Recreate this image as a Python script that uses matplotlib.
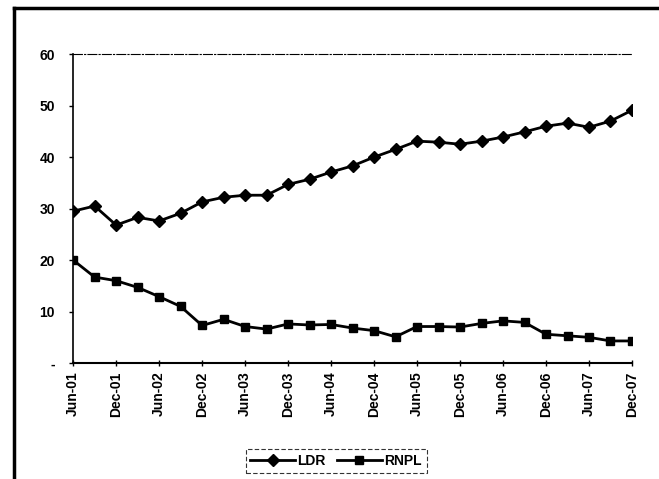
import matplotlib
matplotlib.use("Agg")
import matplotlib.pyplot as plt
from matplotlib.lines import Line2D

plt.rcParams["font.family"] = ["Liberation Sans", "DejaVu Sans"]
plt.rcParams["font.weight"] = "bold"

QUARTERS = ["Jun-01", "Sep-01", "Dec-01", "Mar-02", "Jun-02", "Sep-02", "Dec-02",
            "Mar-03", "Jun-03", "Sep-03", "Dec-03", "Mar-04", "Jun-04", "Sep-04",
            "Dec-04", "Mar-05", "Jun-05", "Sep-05", "Dec-05", "Mar-06", "Jun-06",
            "Sep-06", "Dec-06", "Mar-07", "Jun-07", "Sep-07", "Dec-07"]

LDR = [29.5, 30.5, 26.8, 28.3, 27.6, 29.1, 31.3, 32.2, 32.6, 32.6, 34.7, 35.7,
       37.1, 38.3, 40.0, 41.5, 43.1, 42.9, 42.5, 43.1, 43.9, 44.9, 46.0, 46.6,
       45.8, 47.0, 49.1]

RNPL = [20.0, 16.7, 16.0, 14.7, 12.9, 11.0, 7.3, 8.5, 7.1, 6.6, 7.6, 7.4, 7.5,
        6.8, 6.3, 5.1, 7.1, 7.1, 7.0, 7.7, 8.2, 7.9, 5.6, 5.3, 5.0, 4.3, 4.3]

Y_TICKS = [0, 10, 20, 30, 40, 50, 60]
Y_LABELS = ["-", "10", "20", "30", "40", "50", "60"]


def main():
    fig = plt.figure(figsize=(6.59, 4.79), dpi=100)
    ax = fig.add_axes([0.111, 0.242, 0.848, 0.645])

    x = list(range(len(QUARTERS)))
    ax.plot(x, LDR, color="black", lw=2, marker="D", ms=6, label="LDR")
    ax.plot(x, RNPL, color="black", lw=2, marker="s", ms=6, label="RNPL")

    ax.set_xlim(0, len(QUARTERS) - 1)
    ax.set_ylim(0, 60)
    ax.set_xticks(x[::2])
    ax.set_xticklabels(QUARTERS[::2], rotation=90, fontsize=10, fontweight="bold")
    ax.set_yticks(Y_TICKS)
    ax.set_yticklabels(Y_LABELS, fontsize=10, fontweight="bold")
    ax.tick_params(axis="x", direction="inout", length=5, width=1)
    ax.tick_params(axis="y", direction="out", length=3, width=1, pad=10)

    ax.spines["right"].set_visible(False)
    ax.spines["top"].set_linestyle((0, (8, 2, 1, 2)))
    ax.spines["top"].set_linewidth(0.8)
    ax.spines["left"].set_linewidth(1.2)
    ax.spines["bottom"].set_linewidth(1.5)

    leg = fig.legend(loc="center", bbox_to_anchor=(0.51, 0.038), ncol=2,
                     frameon=True, fontsize=10, handlelength=3.2,
                     columnspacing=0.8, handletextpad=0.2, borderpad=0.35,
                     fancybox=False)
    leg.get_frame().set_edgecolor("black")
    leg.get_frame().set_linestyle((0, (4, 2)))
    leg.get_frame().set_linewidth(0.8)

    # outer border of the scanned chart
    fig.add_artist(Line2D([0.021, 0.021], [0.0, 0.983], color="black", lw=2.5,
                          transform=fig.transFigure))
    fig.add_artist(Line2D([0.021, 1.0], [0.983, 0.983], color="black", lw=2.5,
                          transform=fig.transFigure))

    fig.savefig("out.png", dpi=100)


if __name__ == '__main__':
    main()
